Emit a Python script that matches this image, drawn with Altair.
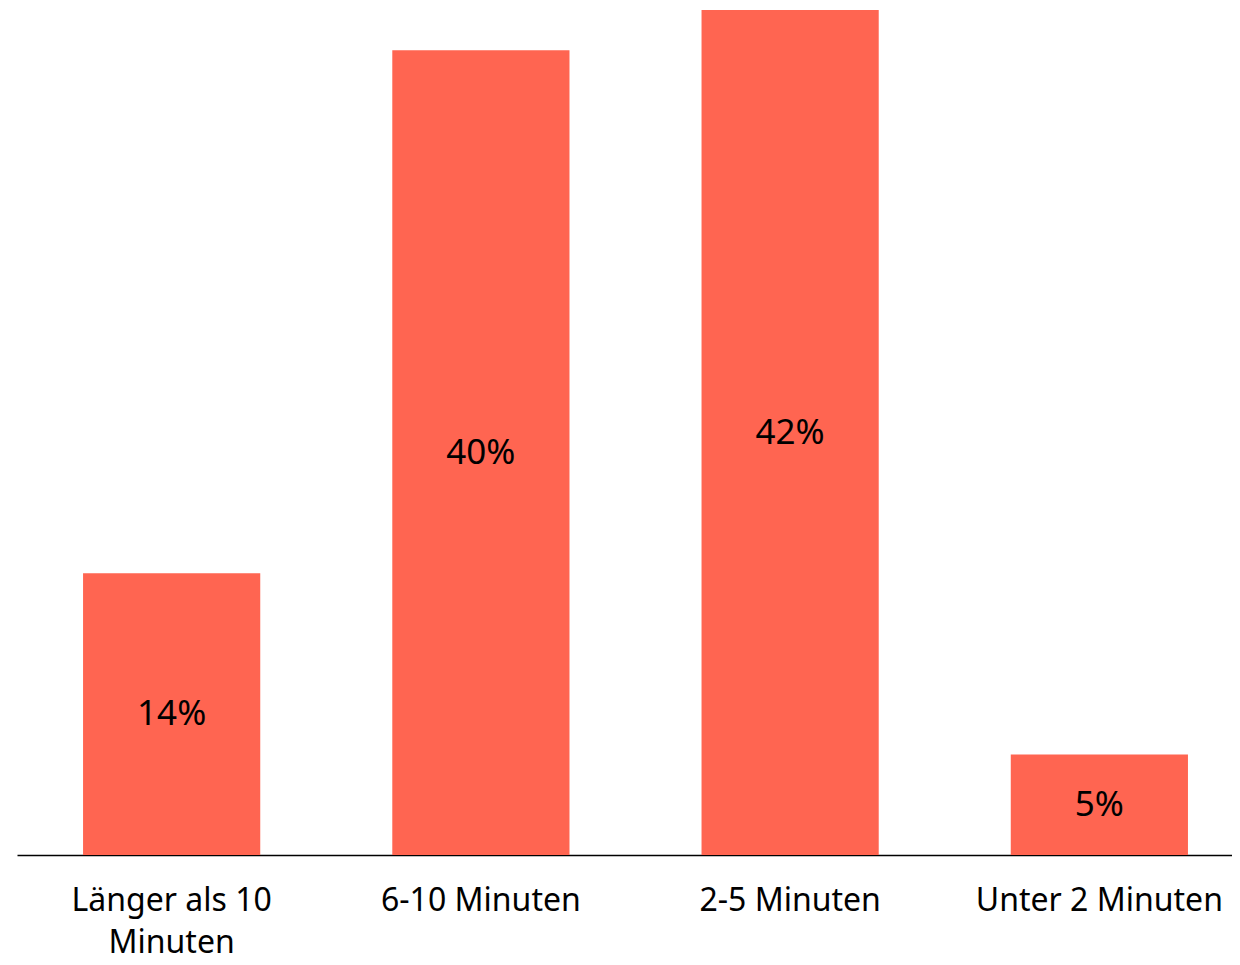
import altair as alt
import pandas as pd

categories = ["Länger als 10 Minuten", "6-10 Minuten", "2-5 Minuten", "Unter 2 Minuten"]
values = [14, 40, 42, 5]
labels = ["14%", "40%", "42%", "5%"]

df = pd.DataFrame({"cat": categories, "v": values, "lab": labels})

FONT = "Noto Sans"

xaxis = alt.Axis(labelAngle=0, ticks=False, domainColor="#000000", domainWidth=1.5,
                 labelFont=FONT, labelFontSize=32, labelColor="#000000",
                 labelPadding=30, labelLineHeight=42, labelLimit=400,
                 labelExpr="datum.label == 'Länger als 10 Minuten' ? ['Länger als 10', 'Minuten'] : datum.label")
xscale = alt.Scale(paddingInner=0.427, paddingOuter=0.178, align=0.6)

base = alt.Chart(df)

bars = base.mark_bar(color="#FF6551").encode(
    x=alt.X("cat:N", sort=categories, title=None, scale=xscale, axis=xaxis),
    y=alt.Y("v:Q", scale=alt.Scale(domain=[0, 42], nice=False), axis=None),
)

text = base.transform_calculate(mid="datum.v / 2").mark_text(
    font=FONT, fontSize=35, color="#000000", baseline="middle"
).encode(
    x=alt.X("cat:N", sort=categories, title=None, scale=xscale, axis=xaxis),
    y=alt.Y("mid:Q", axis=None),
    text="lab:N",
)

chart = (bars + text).properties(
    width=1215, height=845,
    padding={"left": 9, "top": 2, "right": 0, "bottom": 108},
    autosize=alt.AutoSizeParams(type="none"),
).configure_view(stroke=None)

chart.save("out.html", embed_options={"renderer": "svg", "actions": False})
